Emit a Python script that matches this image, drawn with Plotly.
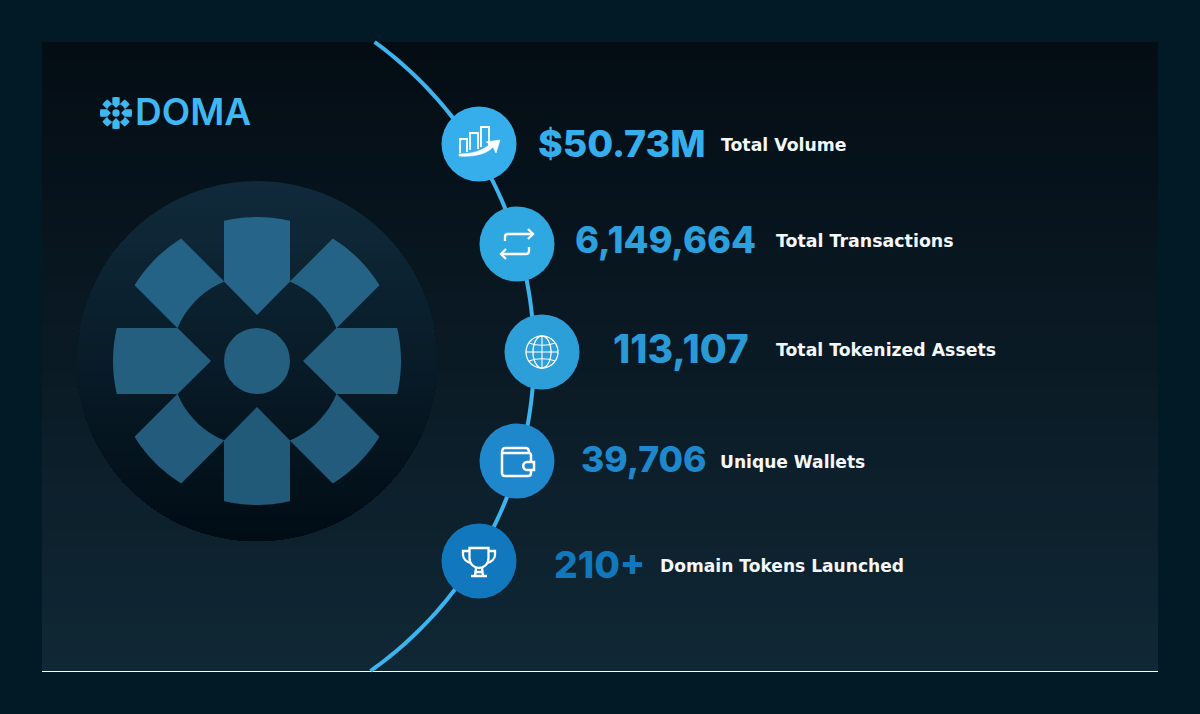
import re
import numpy as np
import plotly.graph_objects as go

# what the picture reports
metric_values = ["$50.73M", "6,149,664", "113,107", "39,706", "210+"]
metric_labels = ["Total Volume", "Total Transactions", "Total Tokenized Assets",
                 "Unique Wallets", "Domain Tokens Launched"]
brand = "DOMA"

# layout, in pixels of the 1200x714 page
badge_x = [479, 517, 542, 517, 479]
badge_y = [144, 244, 352, 461, 561]
badge_colors = ["#36aeec", "#2fa7e1", "#2d9fd8", "#1f87cb", "#1278bd"]
value_x = [538, 575, 613, 581, 554]
value_y = [148, 244, 353, 463, 569]
value_sizes = [37.5, 36.3, 39, 35.5, 37.2]
value_colors = ["#36aeec", "#2c9fdd", "#2a9ad6", "#1f87cb", "#1278bd"]
label_x = [721, 776, 776, 720, 660]
label_y = [147, 243, 352, 464, 568]
label_sizes = [17.3, 17.4, 17.3, 17.1, 17.1]

PAGE = "#021a26"
FONT = "Inter"
LABEL_FONT = "DejaVu Sans"


def mix(c1, c2, t):
    a = [int(c1[i:i + 2], 16) for i in (1, 3, 5)]
    b = [int(c2[i:i + 2], 16) for i in (1, 3, 5)]
    return "#%02x%02x%02x" % tuple(round(p + (q - p) * t) for p, q in zip(a, b))


def poly(points):
    return "M " + " L ".join(f"{x:.2f},{y:.2f}" for x, y in points) + " Z"


def at(path, cx, cy):
    # shift a path written around (0,0) to a badge centre
    nums = iter([cx, cy] * 200)
    return re.sub(r"-?\d+\.?\d*", lambda m: f"{float(m.group()) + next(nums):.2f}", path)


def petal(cx, cy, s, angle, notch):
    w, outer, inner, tip = 33, 144, 86, 46
    a = np.arcsin(w / outer)
    t = np.linspace(-a, a, 16)
    pts = [(outer * np.sin(v), -outer * np.cos(v)) for v in t]
    shoulder = np.sqrt(inner ** 2 - w ** 2)
    if notch:
        b = np.arcsin(w / inner)
        pts += [(inner * np.sin(v), -inner * np.cos(v)) for v in np.linspace(b, -b, 10)]
    else:
        pts += [(w, -shoulder), (0, -tip), (-w, -shoulder)]
    c, d = np.cos(np.radians(angle)), np.sin(np.radians(angle))
    return [(cx + s * (x * c - y * d), cy + s * (x * d + y * c)) for x, y in pts]


def glyph(cx, cy, s, top, bottom):
    out = []
    for i in range(8):
        pts = petal(cx, cy, s, 45 * i, i % 2 == 1)
        t = (np.mean([p[1] for p in pts]) - (cy - 144 * s)) / (288 * s)
        out.append(dict(type="path", path=poly(pts), fillcolor=mix(top, bottom, t),
                        line_width=0, layer="below"))
    out.append(dict(type="circle", x0=cx - 33 * s, x1=cx + 33 * s, y0=cy - 33 * s, y1=cy + 33 * s,
                    fillcolor=mix(top, bottom, 0.5), line_width=0, layer="below"))
    return out


shapes = []

# panel, painted from the top down so the bands leave no seams
n = 40
for i in range(n):
    y0 = 42 + (671 - 42) * i / n
    shapes.append(dict(type="rect", x0=42, x1=1158, y0=y0, y1=671, line_width=0, layer="below",
                       fillcolor=mix("#040d14", "#102735", i / (n - 1))))
shapes.append(dict(type="line", x0=42, x1=1158, y0=671.5, y1=671.5, layer="below",
                   line=dict(color="#ffffff", width=1)))

# big disc behind the glyph
cx, cy, R = 257, 361, 180
for i in range(n):
    y0 = cy - R + 2 * R * i / n
    t = np.linspace(np.arcsin((y0 - cy) / R), np.pi - np.arcsin((y0 - cy) / R), 90)
    shapes.append(dict(type="path", path=poly(zip(cx + R * np.cos(t), cy + R * np.sin(t))),
                       line_width=0, layer="below", fillcolor=mix("#102a3b", "#010d15", i / (n - 1))))
shapes += glyph(cx, cy, 1, "#26668a", "#215877")

# logo mark
shapes += glyph(116, 113, 16 / 144, "#3fb8f2", "#3fb8f2")

# timeline arc
arc_t = np.arcsin((np.array([42, 671]) - 355) / 387)
t = np.linspace(arc_t[0], arc_t[1], 120)
arc_xy = list(zip(147 + 387 * np.cos(t), 355 + 387 * np.sin(t)))
shapes.append(dict(type="path", path="M " + " L ".join(f"{x:.2f},{y:.2f}" for x, y in arc_xy),
                   line=dict(color="#3db4ee", width=4), layer="below"))


def icon(path, cx, cy, width=2.0, fill=None):
    shapes.append(dict(type="path", path=at(path, cx, cy), layer="above",
                       fillcolor=fill or "rgba(0,0,0,0)",
                       line=dict(color="#ffffff", width=width)))


# volume: bars with a rising arrow
icon("M -19,9 L -19,-5 L -12,-5 L -12,8", 479, 144, 1.8)
icon("M -9,6 L -9,-11 L -1,-11 L -1,5", 479, 144, 1.8)
icon("M 2,3 L 2,-17 L 10,-17 L 10,1", 479, 144, 1.8)
icon("M -20,10 C -8,10 4,7 11,0 L 7,-2 L 21,-4 L 17,9 L 14,3 C 7,11 -8,13 -20,12 Z", 479, 144, 0.6, "#ffffff")

# transactions: swap arrows
icon("M -12,-3 L -12,-7 C -12,-9 -11,-10 -9,-10 L 16,-10", 517, 244, 2.3)
icon("M 11,-15 L 16,-10 L 11,-5", 517, 244, 2.3)
icon("M 12,3 L 12,7 C 12,9 11,10 9,10 L -16,10", 517, 244, 2.3)
icon("M -11,5 L -16,10 L -11,15", 517, 244, 2.3)

# assets: globe
g = np.linspace(0, 2 * np.pi, 48)
for rx in (16, 9):
    shapes.append(dict(type="path", path=poly(zip(542 + rx * np.cos(g), 352 + 16 * np.sin(g))),
                       layer="above", fillcolor="rgba(0,0,0,0)", line=dict(color="#ffffff", width=1.3)))
icon("M 0,-16 L 0,16", 542, 352, 1.1)
icon("M -16,0 L 16,0", 542, 352, 1.1)
icon("M -13,-9 C -6,-6 6,-6 13,-9", 542, 352, 1.1)
icon("M -13,9 C -6,6 6,6 13,9", 542, 352, 1.1)

# wallets: wallet with clasp
icon("M -15,-8 C -15,-11 -14,-13 -12,-13 L 9,-13 C 11,-13 12,-11 12,-8 L -15,-8 L -15,12 "
     "C -15,14 -14,15 -12,15 L 11,15 C 13,15 14,14 14,12 L 14,9", 517, 461, 2.5)
icon("M 14,1 L 14,-6 C 14,-7 13,-8 12,-8", 517, 461, 2.5)
icon("M 10,1 L 17,1 L 17,9 L 10,9 C 5,9 5,1 10,1 Z", 517, 461, 2.5)

# tokens: trophy
icon("M -9.5,-13 L 9.5,-13 L 9.5,-3 C 9.5,3 5,7 0,7 C -5,7 -9.5,3 -9.5,-3 Z", 479, 561, 2.3)
icon("M -9.5,-10 L -16,-10 L -16,-6 C -16,-2 -12,1 -8,2", 479, 561, 2.3)
icon("M 9.5,-10 L 16,-10 L 16,-6 C 16,-2 12,1 8,2", 479, 561, 2.3)
icon("M -3,7 L -4,15 M 3,7 L 4,15 M -8,15 L 8,15 M -3,11 L 3,11", 479, 561, 2.3)

fig = go.Figure()
fig.add_trace(go.Scatter(x=badge_x, y=badge_y, mode="markers", hoverinfo="skip",
                         marker=dict(size=75, color=badge_colors, line_width=0)))
fig.add_trace(go.Scatter(x=value_x, y=value_y, mode="text", text=metric_values,
                         textposition="middle right", hoverinfo="skip",
                         textfont=dict(family=FONT, size=value_sizes, color=value_colors, weight=800)))
fig.add_trace(go.Scatter(x=label_x, y=label_y, mode="text", text=metric_labels,
                         textposition="middle right", hoverinfo="skip",
                         textfont=dict(family=LABEL_FONT, size=label_sizes, color="#f4f7f9", weight=700)))
fig.add_trace(go.Scatter(x=[135], y=[116], mode="text", text=[brand],
                         textposition="middle right", hoverinfo="skip",
                         textfont=dict(family=FONT, size=37, color="#3fb8f2", weight=600)))

fig.update_layout(width=1200, height=714, margin=dict(l=0, r=0, t=0, b=0), showlegend=False,
                  paper_bgcolor=PAGE, plot_bgcolor=PAGE, shapes=shapes,
                  xaxis=dict(range=[0, 1200], visible=False),
                  yaxis=dict(range=[714, 0], visible=False))

fig.write_html("out.html", config={"displayModeBar": False},
               post_script="document.body.style.margin='0';document.body.style.overflow='hidden';")
